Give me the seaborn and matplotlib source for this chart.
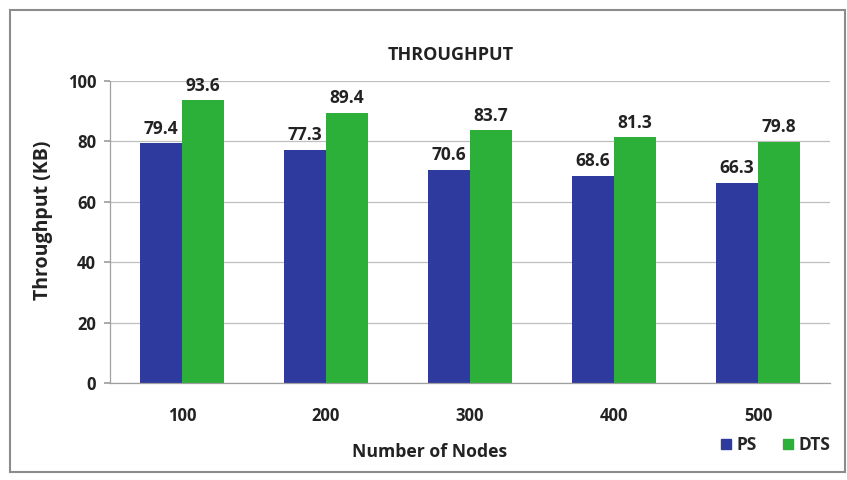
import matplotlib
matplotlib.use("Agg")
import matplotlib.pyplot as plt
import seaborn as sns
import pandas as pd
from matplotlib.patches import Rectangle
from matplotlib.lines import Line2D

nodes = ["100", "200", "300", "400", "500"]
ps = [79.4, 77.3, 70.6, 68.6, 66.3]
dts = [93.6, 89.4, 83.7, 81.3, 79.8]
series = ["PS", "DTS"]
colors = ["#2E3A9E", "#2DB03A"]

df = pd.DataFrame({
    "Nodes": nodes * 2,
    "Throughput": ps + dts,
    "Series": [series[0]] * len(nodes) + [series[1]] * len(nodes),
})

sns.set_theme(style="white")
plt.rcParams["font.family"] = ["Open Sans", "DejaVu Sans"]

W, H = 847, 480
fig = plt.figure(figsize=(W / 100, H / 100), dpi=100)
ax = fig.add_axes([110 / W, 1 - 383 / H, 720 / W, 302 / H])

sns.barplot(data=df, x="Nodes", y="Throughput", hue="Series", palette=colors,
            width=0.58, saturation=1, linewidth=0, ax=ax, legend=False)

ax.set_ylim(0, 100)
ax.set_yticks([0, 20, 40, 60, 80, 100])
ax.yaxis.grid(True, color="#BFBFBF", linewidth=0.9)
ax.set_axisbelow(True)
for s in ["top", "right"]:
    ax.spines[s].set_visible(False)
for s in ["left", "bottom"]:
    ax.spines[s].set_color("#A0A0A0")
    ax.spines[s].set_linewidth(0.9)
ax.tick_params(axis="y", left=True, length=4, color="#A0A0A0", labelsize=12, pad=6)
ax.tick_params(axis="x", bottom=False, labelsize=12, pad=11)
for lab in ax.get_xticklabels() + ax.get_yticklabels():
    lab.set_fontweight("bold")
    lab.set_color("#222222")

ax.set_xlabel("")
ax.set_ylabel("")
fig.text(430 / W, 1 - 452 / H, "Number of Nodes", ha="center", va="center",
         fontsize=12.7, fontweight="bold", color="#222222")
fig.text(43 / W, 1 - 220 / H, "Throughput (KB)", ha="center", va="center", rotation=90,
         fontsize=14, fontweight="bold", color="#222222")

for cont in ax.containers:
    ax.bar_label(cont, fmt="%.1f", padding=4, fontsize=12.5, fontweight="bold", color="#222222")

fig.text(451 / W, 1 - 55 / H, "THROUGHPUT", ha="center", va="center",
         fontsize=13, fontweight="bold", color="#222222")

handles = [Line2D([], [], marker="s", linestyle="", markersize=7.5, color=c) for c in colors]
fig.legend(handles, series, loc="center", bbox_to_anchor=(774 / W, 1 - 445 / H),
           ncol=2, frameon=False, handletextpad=0.1, columnspacing=1.3,
           handlelength=1.0, prop={"weight": "bold", "size": 12.5})

fig.patches.append(Rectangle((10 / W, 1 - 472 / H), 835 / W, 462 / H,
                             transform=fig.transFigure, fill=False,
                             edgecolor="#8C8C8C", linewidth=1.5))

fig.savefig("out.png", dpi=100)
